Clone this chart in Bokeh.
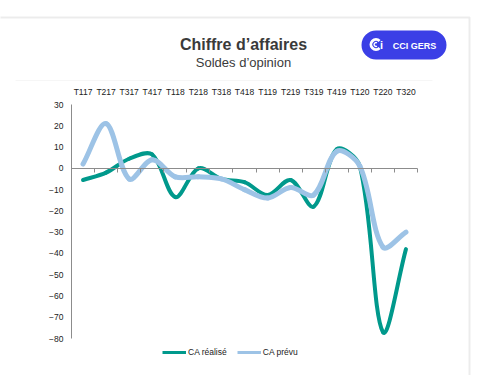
import math
from bokeh.plotting import figure
from bokeh.models import (Range1d, LinearAxis, FixedTicker, Label, BoxAnnotation,
                          Legend, LegendItem)
from bokeh.embed import file_html
from bokeh.resources import INLINE

categories = ["T117", "T217", "T317", "T417", "T118", "T218", "T318", "T418",
              "T119", "T219", "T319", "T419", "T120", "T220", "T320"]
ca_realise = [-5.5, -2, 4.5, 6.5, -13.5, 0, -5, -6.5, -12.5, -5.5, -18, 9, 1, -77, -38]
ca_prevu = [2, 21, -5, 4, -4, -4, -5, -10, -14, -9, -12.5, 8, 1, -37, -30]
y_ticks = [-80, -70, -60, -50, -40, -30, -20, -10, 0, 10, 20, 30]

TEAL = "#00998c"
BLUE = "#9dc3e6"
TXT = "#3a3a3a"
LOGO = "#3b3fe6"
NARROW = "'Liberation Sans Narrow', 'Arial Narrow', 'Liberation Sans', sans-serif"
W, H = 501, 375
# pixel box of the plotting area inside the canvas
PL, PR, PT, PB = 71, 417, 104, 338

n = len(categories)
x_lo, x_hi = -0.5, n - 0.5
y_lo, y_hi = min(y_ticks), max(y_ticks)
sx = (x_hi - x_lo) / (PR - PL)
sy = (y_hi - y_lo) / (PB - PT)


def px2x(px):
    return x_lo + (px - PL) * sx


def px2y(py):
    return y_hi - (py - PT) * sy


p = figure(width=W, height=H, output_backend="svg", toolbar_location=None,
           x_range=Range1d(px2x(0), px2x(W)), y_range=Range1d(px2y(H), px2y(0)),
           min_border=0, x_axis_location=None, y_axis_location=None)
p.outline_line_color = None
p.grid.visible = False
p.background_fill_color = "white"
p.border_fill_color = "white"

# y axis
ya = LinearAxis(fixed_location=x_lo, bounds=(y_lo, y_hi), ticker=FixedTicker(ticks=y_ticks))
ya.axis_line_color = "#8c8c8c"
ya.major_tick_out = 0
ya.major_tick_in = 0
ya.minor_tick_out = 0
ya.minor_tick_in = 0
ya.major_label_standoff = 8
ya.major_label_text_font = NARROW
ya.major_label_text_font_size = "8.5px"
ya.major_label_text_color = "#222222"
p.add_layout(ya, "left")

# category labels on top
xs = list(range(n))
top = LinearAxis(fixed_location=y_hi, bounds=(x_lo, x_hi), ticker=FixedTicker(ticks=xs),
                 major_label_overrides={i: c for i, c in enumerate(categories)})
top.axis_line_color = None
top.major_tick_out = 0
top.major_tick_in = 0
top.minor_tick_out = 0
top.minor_tick_in = 0
top.major_label_standoff = 8
top.major_label_text_font = NARROW
top.major_label_text_font_size = "8.5px"
top.major_label_text_color = "#222222"
p.add_layout(top, "above")

# zero axis with ticks between categories
zero = LinearAxis(fixed_location=0, bounds=(x_lo, x_hi),
                  ticker=FixedTicker(ticks=[i + 0.5 for i in xs]),
                  major_label_overrides={i + 0.5: "" for i in xs})
zero.axis_line_color = "#8c8c8c"
zero.major_tick_line_color = "#8c8c8c"
zero.major_tick_out = 4
zero.major_tick_in = 0
zero.minor_tick_out = 0
zero.minor_tick_in = 0
zero.major_label_text_font_size = "0px"
p.add_layout(zero, "below")


def bezier_segments(x, y):
    """Excel-like smoothing: Bezier control points scaled by screen chord lengths."""
    m = len(y)
    kx, ky = 1 / sx, 1 / sy  # data units -> pixels

    def dist(i, j):
        return math.hypot((x[j] - x[i]) * kx, (y[j] - y[i]) * ky)

    out = dict(x0=[], y0=[], x1=[], y1=[], cx0=[], cy0=[], cx1=[], cy1=[])
    for i in range(m - 1):
        a = i - 1 if i > 0 else i
        b, c = i, i + 1
        d = i + 2 if i + 2 < m else i + 1
        d_ab, d_bc, d_cd = dist(a, b), dist(b, c), dist(c, d)
        f1 = d_bc / (d_ab + d_bc) / 3 if d_ab + d_bc > 0 else 0
        f2 = d_bc / (d_bc + d_cd) / 3 if d_bc + d_cd > 0 else 0
        out["x0"].append(x[b]); out["y0"].append(y[b])
        out["x1"].append(x[c]); out["y1"].append(y[c])
        out["cx0"].append(x[b] + (x[c] - x[a]) * f1)
        out["cy0"].append(y[b] + (y[c] - y[a]) * f1)
        out["cx1"].append(x[c] - (x[d] - x[b]) * f2)
        out["cy1"].append(y[c] - (y[d] - y[b]) * f2)
    return out


p.bezier(source=bezier_segments(xs, ca_realise), x0="x0", y0="y0", x1="x1", y1="y1",
         cx0="cx0", cy0="cy0", cx1="cx1", cy1="cy1", line_color=TEAL, line_width=4,
         line_cap="round")
p.bezier(source=bezier_segments(xs, ca_prevu), x0="x0", y0="y0", x1="x1", y1="y1",
         cx0="cx0", cy0="cy0", cx1="cx1", cy1="cy1", line_color=BLUE, line_width=5,
         line_cap="round")

# legend proxies (single-point lines draw nothing on the chart)
r1 = p.line(x=xs[:1], y=ca_realise[:1], line_color=TEAL, line_width=3)
r2 = p.line(x=xs[:1], y=ca_prevu[:1], line_color=BLUE, line_width=3)
leg = Legend(items=[LegendItem(label="CA réalisé", renderers=[r1]),
                    LegendItem(label="CA prévu", renderers=[r2])],
             orientation="horizontal", location=(162, H - 347 - 10),
             padding=0, margin=0, spacing=10, label_standoff=2,
             glyph_width=24, glyph_height=10, label_height=10,
             label_text_font=NARROW, label_text_font_size="8.5px",
             label_text_color="#222222",
             background_fill_alpha=0, border_line_color=None)
p.add_layout(leg, "center")

# slide frame and faint chart-area line
p.add_layout(BoxAnnotation(left=px2x(-10), right=px2x(469), top=px2y(17), bottom=px2y(H + 10),
                           fill_alpha=0, line_color="#bfbfbf", line_width=2, level="underlay"))
p.add_layout(BoxAnnotation(left=px2x(15), right=px2x(432), top=px2y(80), bottom=px2y(80),
                           fill_alpha=0, line_color="#f0f0f0", line_width=1, level="underlay"))

# titles
p.add_layout(Label(x=px2x(243), y=px2y(44), text="Chiffre d’affaires",
                   text_font="Liberation Sans", text_font_style="bold",
                   text_font_size="16px", text_color=TXT,
                   text_align="center", text_baseline="middle"))
p.add_layout(Label(x=px2x(243), y=px2y(62), text="Soldes d’opinion",
                   text_font="Liberation Sans", text_font_size="13px", text_color=TXT,
                   text_align="center", text_baseline="middle"))

# logo
p.add_layout(BoxAnnotation(left=px2x(361), right=px2x(446), top=px2y(30), bottom=px2y(59),
                           fill_color=LOGO, fill_alpha=1, line_color=None,
                           border_radius=15, level="underlay"))
p.annular_wedge(x=[px2x(375.5)], y=[px2y(44)], inner_radius=3.6, outer_radius=6.5,
                inner_radius_units="screen", outer_radius_units="screen",
                start_angle=math.radians(45), end_angle=math.radians(315),
                fill_color="white", line_color=None)
p.annular_wedge(x=[px2x(375.5)], y=[px2y(44)], inner_radius=1.2, outer_radius=2.6,
                inner_radius_units="screen", outer_radius_units="screen",
                start_angle=math.radians(60), end_angle=math.radians(300),
                fill_color="white", line_color=None)
p.add_layout(Label(x=px2x(381), y=px2y(44.5), text="i",
                   text_font="Liberation Sans", text_font_style="bold",
                   text_font_size="11px", text_color="white",
                   text_align="center", text_baseline="middle"))
p.add_layout(Label(x=px2x(414), y=px2y(45), text="CCI GERS",
                   text_font="Liberation Sans", text_font_style="bold",
                   text_font_size="9px", text_color="white",
                   text_align="center", text_baseline="middle"))

open("out.html", "w").write(file_html(p, INLINE))
